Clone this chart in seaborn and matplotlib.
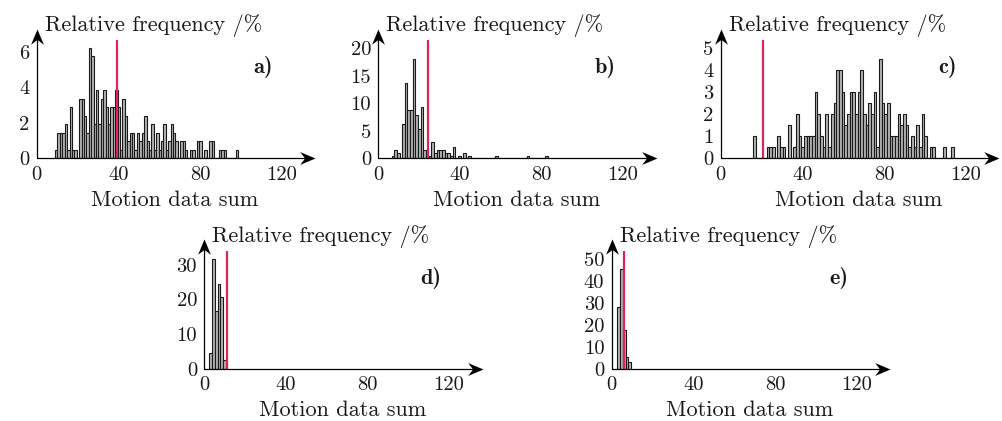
import numpy as np
import pandas as pd
import matplotlib
matplotlib.use('Agg')
import matplotlib.pyplot as plt
from matplotlib.path import Path
import seaborn as sns

sns.set_style('white')
plt.rcParams['font.family'] = ['cmr10', 'DejaVu Serif']
plt.rcParams['mathtext.fontset'] = 'cm'
plt.rcParams['axes.unicode_minus'] = False
plt.rcParams['axes.formatter.use_mathtext'] = True

# relative frequency (%) per bin
a_start, a_width = 9.0, 1.18
a_pct = [0.48, 1.44, 1.44, 1.44, 1.91, 0.48, 2.87, 0.48, 0.48, 0.0,
         3.35, 3.35, 2.39, 1.44, 6.22, 5.74, 1.91, 3.83, 1.91, 3.35,
         3.83, 2.87, 1.91, 2.87, 2.87, 3.83, 2.87, 0.48, 3.35, 2.39,
         0.96, 1.44, 1.44, 0.48, 1.44, 0.96, 1.44, 2.39, 0.96, 0.48,
         1.91, 0.48, 1.44, 0.48, 0.96, 1.91, 0.48, 0.96, 1.91, 1.44,
         0.96, 0.0, 0.96, 0.96, 0.48, 0.0, 0.48, 0.48, 0.0, 0.96,
         0.96, 0.0, 0.48, 0.0, 0.96, 0.96, 0.0, 0.0, 0.48, 0.48,
         0.48, 0.0, 0.0, 0.0, 0.0, 0.48]
a_mean = 39.3

b_start, b_width = 6.5, 1.3
b_pct = [0.5, 1.5, 1.0, 0.0, 6.3, 13.7, 8.8, 8.8, 18.0, 7.8,
         5.4, 9.3, 1.5, 0.0, 0.5, 2.9, 1.0, 1.5, 1.5, 1.5,
         1.0, 1.0, 0.5, 2.0, 0.0, 0.5, 0.0, 1.0, 0.0, 0.5,
         0.0, 0.0, 0.0, 0.0, 0.0, 0.0, 0.0, 0.0, 0.0, 0.5,
         0.0, 0.0, 0.0, 0.0, 0.0, 0.0, 0.0, 0.0, 0.0, 0.0,
         0.0, 0.5, 0.0, 0.0, 0.0, 0.0, 0.0, 0.0, 0.5]
b_mean = 24.2

c_start, c_width = 16.0, 1.31
c_pct = [1.0, 0.0, 0.0, 0.0, 0.0, 0.5, 0.5, 0.5, 0.0, 1.0,
         0.5, 0.5, 0.0, 1.5, 0.0, 0.5, 2.0, 1.0, 0.5, 1.0,
         1.0, 1.0, 1.0, 3.0, 2.0, 1.0, 0.5, 2.0, 0.5, 2.0,
         2.5, 4.0, 4.0, 3.0, 1.5, 2.0, 3.0, 3.0, 2.0, 3.0,
         4.0, 2.0, 1.5, 2.5, 2.0, 3.0, 0.5, 4.5, 2.5, 2.0,
         2.5, 1.0, 1.0, 1.0, 2.0, 1.5, 2.0, 1.5, 0.5, 1.0,
         0.5, 1.5, 0.5, 2.0, 1.0, 0.0, 0.5, 0.5, 0.0, 0.0,
         0.0, 0.5, 0.0, 0.0, 0.5]
c_mean = 20.6

d_start, d_width = 2.45, 1.36
d_pct = [4.7, 31.5, 16.6, 24.4, 20.7, 2.6]
d_mean = 11.3

e_start, e_width = 2.75, 1.34
e_pct = [28.3, 45.5, 18.0, 5.5, 3.0]
e_mean = 6.2

labels = ['a)', 'b)', 'c)', 'd)', 'e)']
y_max = [6.65, 21.4, 5.35, 33.9, 53.8]
y_ticks = [[0, 2, 4, 6], [0, 5, 10, 15, 20], [0, 1, 2, 3, 4, 5],
           [0, 10, 20, 30], [0, 10, 20, 30, 40, 50]]
x_ticks = [0, 40, 80, 120]

W, H = 1003, 421
# axes origin (px from left, px from top), plot box size
origins = [(36.7, 158.3), (378.3, 158.3), (720.7, 158.3), (204.3, 369.0), (611.7, 369.0)]
box_w, box_h = 265.2, 118.0

red = '#e0245a'

# stealth-like arrow heads, tip at the origin of the path
codes = [Path.MOVETO, Path.LINETO, Path.LINETO, Path.LINETO, Path.CLOSEPOLY]
head_right = Path([(0, 0), (-1, 0.42), (-0.68, 0), (-1, -0.42), (0, 0)], codes)
head_up = Path([(0, 0), (0.42, -1), (0, -0.68), (-0.42, -1), (0, 0)], codes)


def draw_panel(fig, org, start, width, pct, mean, ymax, yt, lab):
    ax = fig.add_axes([org[0] / W, (H - org[1]) / H, box_w / W, box_h / H])
    n = len(pct)
    centers = start + width * (np.arange(n) + 0.5)
    df = pd.DataFrame({'x': centers, 'pct': pct})
    sns.histplot(data=df, x='x', weights='pct', binwidth=width,
                 binrange=(start, start + width * n), ax=ax, color='#b3b3b3',
                 edgecolor='#1a1a1a', linewidth=0.8, alpha=1)
    ax.axvline(mean, color=red, lw=1.6, zorder=3)
    ax.set_xlim(0, 130)
    ax.set_ylim(0, ymax)
    ax.set_xticks(x_ticks)
    ax.set_xticklabels([str(t) for t in x_ticks])
    ax.set_yticks(yt)
    ax.set_yticklabels([str(t) for t in yt])
    ax.set_ylabel('')
    for s in ax.spines.values():
        s.set_visible(False)
    ax.tick_params(direction='inout', length=4.5, width=0.8, labelsize=14.8,
                   color='black', labelcolor='#1a1a1a')
    ax.tick_params(axis='x', pad=3)
    ax.tick_params(axis='y', pad=3)

    # axis lines with arrow heads
    tx, ty = 1.05, 1.10
    ax.plot([0, tx - 0.02], [0, 0], color='black', lw=0.9, transform=ax.transAxes,
            clip_on=False, zorder=4)
    ax.plot([0, 0], [0, ty - 0.04], color='black', lw=0.9, transform=ax.transAxes,
            clip_on=False, zorder=4)
    ax.plot([tx], [0], marker=head_right, ms=22, color='black', mew=0,
            transform=ax.transAxes, clip_on=False, zorder=5)
    ax.plot([0], [ty], marker=head_up, ms=22, color='black', mew=0,
            transform=ax.transAxes, clip_on=False, zorder=5)

    ax.text(0.03, 1.075, 'Relative frequency /%', transform=ax.transAxes,
            fontsize=16, ha='left', va='baseline', color='#1a1a1a')
    ax.text(0.855, 0.77, lab, transform=ax.transAxes, fontsize=16,
            family='cmb10', ha='center', va='center', color='#1a1a1a')
    ax.set_xlabel('Motion data sum', fontsize=16, color='#1a1a1a')
    ax.xaxis.set_label_coords(0.52, -0.27)
    return ax


fig = plt.figure(figsize=(W / 100, H / 100), dpi=100)
data = [(a_start, a_width, a_pct, a_mean), (b_start, b_width, b_pct, b_mean),
        (c_start, c_width, c_pct, c_mean), (d_start, d_width, d_pct, d_mean),
        (e_start, e_width, e_pct, e_mean)]
for i, (st, wd, pc, mn) in enumerate(data):
    draw_panel(fig, origins[i], st, wd, pc, mn, y_max[i], y_ticks[i], labels[i])

fig.savefig('out.png', dpi=100)
